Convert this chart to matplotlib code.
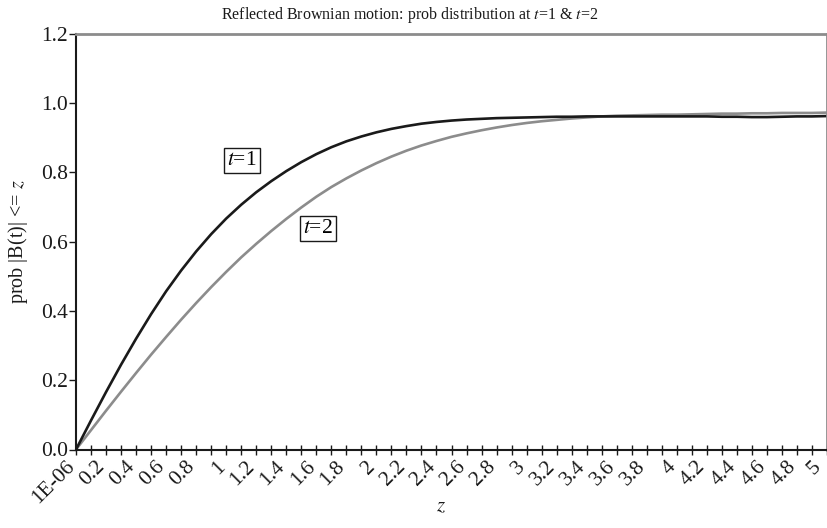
import numpy as np
import matplotlib
matplotlib.use("Agg")
import matplotlib.pyplot as plt
import matplotlib.transforms as mtransforms
from matplotlib.ticker import MultipleLocator, FixedLocator

plt.rcParams['font.family'] = ['Liberation Serif', 'DejaVu Serif']
plt.rcParams['mathtext.fontset'] = 'stix'

# z values, step 0.1 from 0 to 5
z = [i / 10 for i in range(51)]

# t=1 curve (black)
p_t1 = [0.000, 0.084, 0.166, 0.245, 0.320, 0.391, 0.457, 0.517, 0.572, 0.622,
        0.667, 0.707, 0.743, 0.775, 0.804, 0.830, 0.853, 0.873, 0.890, 0.904,
        0.916, 0.926, 0.934, 0.941, 0.946, 0.950, 0.953, 0.955, 0.957, 0.958,
        0.959, 0.960, 0.961, 0.961, 0.962, 0.962, 0.962, 0.962, 0.962, 0.962,
        0.962, 0.962, 0.962, 0.961, 0.961, 0.960, 0.960, 0.961, 0.962, 0.962,
        0.963]

# t=2 curve (grey)
p_t2 = [0.000, 0.056, 0.112, 0.167, 0.221, 0.274, 0.325, 0.375, 0.423, 0.469,
        0.513, 0.555, 0.594, 0.631, 0.666, 0.699, 0.730, 0.758, 0.783, 0.806,
        0.827, 0.846, 0.863, 0.878, 0.891, 0.903, 0.913, 0.922, 0.930, 0.937,
        0.943, 0.948, 0.952, 0.956, 0.959, 0.962, 0.964, 0.965, 0.966, 0.967,
        0.967, 0.968, 0.969, 0.970, 0.970, 0.971, 0.971, 0.972, 0.972, 0.972,
        0.973]

xtick_vals = [i / 5 for i in range(26)]
xtick_labels = ["1E-06"] + [("%g" % v) for v in xtick_vals[1:]]
ytick_vals = [0.0, 0.2, 0.4, 0.6, 0.8, 1.0, 1.2]

fig = plt.figure(figsize=(8.27, 5.28), dpi=100)
ax = fig.add_axes([76 / 827, 1 - 449.5 / 528, 751 / 827, 415.5 / 528])

ax.plot(z, p_t2, color="#8c8c8c", lw=1.9)
ax.plot(z, p_t1, color="#1a1a1a", lw=1.9)

ax.set_xlim(0, 5)
ax.set_ylim(0, 1.2)

ax.xaxis.set_major_locator(FixedLocator(xtick_vals))
ax.set_xticklabels(xtick_labels, rotation=45, ha="right", va="center",
                   rotation_mode="anchor")
ax.xaxis.set_minor_locator(MultipleLocator(0.1))
ax.set_yticks(ytick_vals)
ax.set_yticklabels(["%.1f" % v for v in ytick_vals])

ax.tick_params(axis="x", which="both", direction="inout", length=7, width=1,
               labelsize=15.5, pad=7, colors="#1a1a1a")
ax.tick_params(axis="y", which="both", direction="out", length=5, width=1,
               labelsize=15.5, pad=1, colors="#1a1a1a")

labels = ax.get_xticklabels()
for i, lab in enumerate(labels):
    dx = -4 if i < len(labels) - 1 else -9
    shift = mtransforms.ScaledTranslation(dx / 100, 0, fig.dpi_scale_trans)
    lab.set_transform(lab.get_transform() + shift)

for side in ["left", "bottom"]:
    ax.spines[side].set_color("#1a1a1a")
    ax.spines[side].set_linewidth(1.5)
for side in ["top", "right"]:
    ax.spines[side].set_color("#8c8c8c")
    ax.spines[side].set_linewidth(2)

box = dict(boxstyle="square,pad=0.15", fc="white", ec="#1a1a1a", lw=1)
ax.text(1.105, 0.835, "$t$=1", fontsize=15.5, ha="center", va="center", bbox=box)
ax.text(1.61, 0.639, "$t$=2", fontsize=15.5, ha="center", va="center", bbox=box)

fig.text(410 / 827, 1 - 15 / 528,
         "Reflected Brownian motion: prob distribution at $t$=1 & $t$=2",
         fontsize=11.5, ha="center", va="center", color="#1a1a1a")
fig.text(18 / 827, 1 - 242 / 528, "prob |B(t)| <= $z$", rotation=90,
         fontsize=14.5, ha="center", va="center", color="#1a1a1a")
fig.text(441 / 827, 1 - 507 / 528, "$z$", fontsize=15,
         ha="center", va="center", color="#1a1a1a")

fig.savefig("out.png", dpi=100)
